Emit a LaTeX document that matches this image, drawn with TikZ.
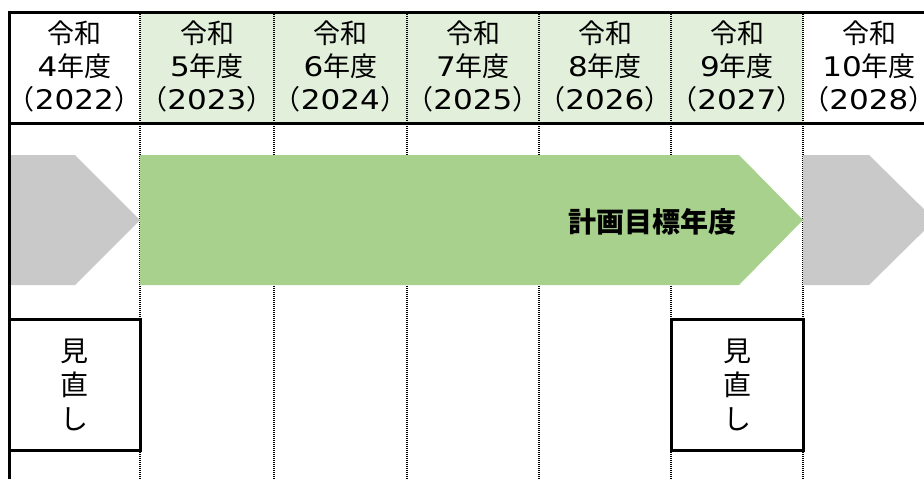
\documentclass[tikz,border=0pt]{standalone}
\usepackage{fontspec}
\setmainfont{Noto Sans CJK JP}
\newfontfamily\numfont[FakeStretch=1.15]{DejaVu Sans}
\definecolor{hdrgreen}{HTML}{E2EFDA}
\definecolor{planGreen}{HTML}{A9D18E}
\definecolor{pastGray}{HTML}{C9C9C9}
\newcommand{\yr}[1]{{\numfont\fontsize{27}{33}\selectfont #1}}
\tikzset{
  frameline/.style={line width=3pt, black},
  divline/.style={line width=2.2pt, black, dash pattern=on 1.3pt off 0.7pt},
  hdr/.style={align=center, inner sep=0pt, font=\fontsize{27}{33}\selectfont},
  reviewbox/.style={draw=black, line width=3pt, minimum width=131pt, minimum height=131pt, inner sep=0pt, align=center, font=\fontsize{28}{34}\selectfont},
}
\begin{document}
\begin{tikzpicture}[x=1pt,y=-1pt]
\useasboundingbox (0,0) rectangle (924,479);
\begin{scope}
\clip (0,0) rectangle (924,479);
% header fill
\fill[hdrgreen] (140,12) rectangle (803,123);
% dividers
\foreach \xx in {140,274,407,539,671,803}{
  \draw[divline] (\xx,12) -- (\xx,479);
}
% arrows
\fill[pastGray] (10,155) -- (75,155) -- (140,220) -- (75,285) -- (10,285) -- cycle;
\fill[planGreen] (140,155) -- (739,155) -- (803,220) -- (739,285) -- (140,285) -- cycle;
\fill[pastGray] (803,155) -- (869,155) -- (935,220) -- (869,285) -- (803,285) -- cycle;
% header texts
\node[hdr] (h0) at (74.5,66) {令和\\\yr{4}年度\\（\yr{2022}）};
\node[hdr] (h1) at (207,66) {令和\\\yr{5}年度\\（\yr{2023}）};
\node[hdr] (h2) at (340.5,66) {令和\\\yr{6}年度\\（\yr{2024}）};
\node[hdr] (h3) at (473,66) {令和\\\yr{7}年度\\（\yr{2025}）};
\node[hdr] (h4) at (605,66) {令和\\\yr{8}年度\\（\yr{2026}）};
\node[hdr] (h5) at (737,66) {令和\\\yr{9}年度\\（\yr{2027}）};
\node[hdr] (h6) at (869,66) {令和\\\yr{10}年度\\（\yr{2028}）};
\end{scope}
% frame lines
\draw[frameline] (9,12) -- (924,12);
\draw[frameline] (9,123) -- (924,123);
\draw[frameline] (9,10.5) -- (9,479);
% target label
\node[font=\fontsize{28}{34}\selectfont\bfseries, inner sep=0pt] (target) at (652,222) {計画目標年度};
% review boxes
\node[reviewbox] (rev1) at (74.5,384.5) {見\\直\\し};
\node[reviewbox, minimum width=132pt] (rev2) at (737,384.5) {見\\直\\し};
\end{tikzpicture}
\end{document}
